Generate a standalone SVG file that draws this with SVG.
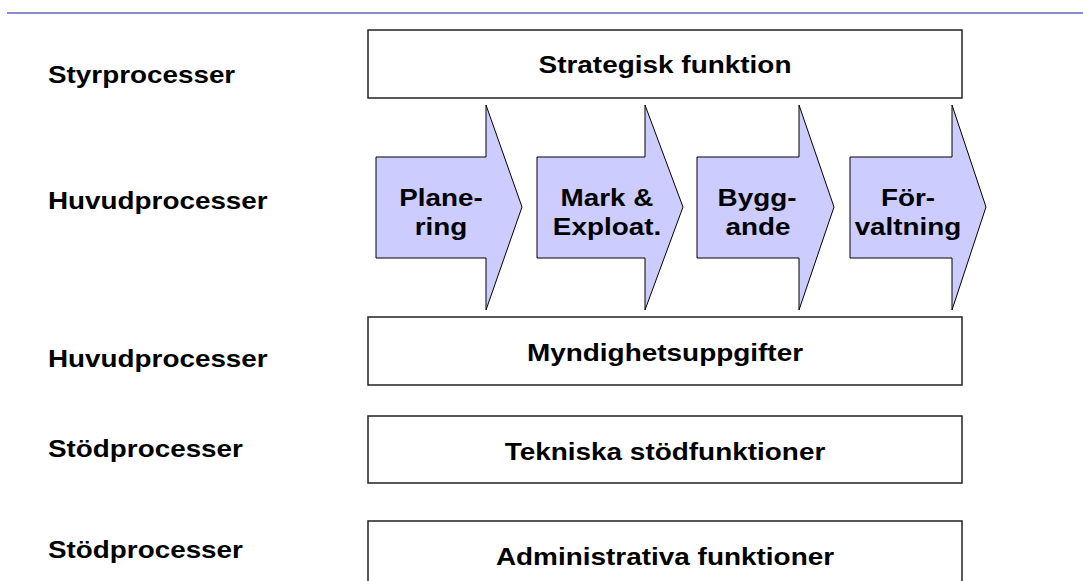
<svg xmlns="http://www.w3.org/2000/svg" width="1083" height="581" viewBox="0 0 1083 581">
<style>
text{font-family:"Liberation Sans",Arial,sans-serif;font-weight:bold;fill:#000}
.lbl{font-size:24px}
.bt{font-size:24.5px;text-anchor:middle}
.at{font-size:24px;text-anchor:middle}
.box{fill:#fff;stroke:#222;stroke-width:1.5}
.arr{fill:#ccccff;stroke:#000;stroke-width:1}
</style>
<rect width="1083" height="581" fill="#fff"/>
<line x1="7" y1="13" x2="1083" y2="13" stroke="#8a8acc" stroke-width="2"/>
<g id="labels">
<text class="lbl" transform="translate(48,83) scale(1.16,1)">Styrprocesser</text>
<text class="lbl" transform="translate(48,209) scale(1.16,1)">Huvudprocesser</text>
<text class="lbl" transform="translate(48,367) scale(1.16,1)">Huvudprocesser</text>
<text class="lbl" transform="translate(48,457) scale(1.16,1)">Stödprocesser</text>
<text class="lbl" transform="translate(48,558) scale(1.16,1)">Stödprocesser</text>
</g>
<g id="strategisk">
<rect class="box" x="368" y="30" width="594" height="68"/>
<text class="bt" transform="translate(665,73) scale(1.14,1)">Strategisk funktion</text>
</g>
<g id="planering">
<polygon class="arr" points="376,157 486,157 486,105 522,207 486,310 486,258 376,258"/>
<text class="at" transform="translate(441,206) scale(1.16,1)">Plane-</text>
<text class="at" transform="translate(441,235) scale(1.16,1)">ring</text>
</g>
<g id="mark">
<polygon class="arr" points="537,157 645,157 645,105 683,207 645,310 645,258 537,258"/>
<text class="at" transform="translate(607,206) scale(1.16,1)">Mark &amp;</text>
<text class="at" transform="translate(607,235) scale(1.16,1)">Exploat.</text>
</g>
<g id="byggande">
<polygon class="arr" points="697,157 799,157 799,105 834,207 799,310 799,258 697,258"/>
<text class="at" transform="translate(757,206) scale(1.16,1)">Bygg-</text>
<text class="at" transform="translate(758,235) scale(1.16,1)">ande</text>
</g>
<g id="forvaltning">
<polygon class="arr" points="850,157 952,157 952,105 986,207 952,310 952,258 850,258"/>
<text class="at" transform="translate(908,206) scale(1.16,1)">För-</text>
<text class="at" transform="translate(908,235) scale(1.16,1)">valtning</text>
</g>
<g id="myndighet">
<rect class="box" x="368" y="317" width="594" height="68"/>
<text class="bt" transform="translate(665,361) scale(1.14,1)">Myndighetsuppgifter</text>
</g>
<g id="tekniska">
<rect class="box" x="368" y="416" width="594" height="67"/>
<text class="bt" transform="translate(665,460) scale(1.14,1)">Tekniska stödfunktioner</text>
</g>
<g id="admin">
<rect class="box" x="368" y="521" width="594" height="68"/>
<text class="bt" transform="translate(665,565) scale(1.14,1)">Administrativa funktioner</text>
</g>
<g id="connectors"></g>
</svg>
